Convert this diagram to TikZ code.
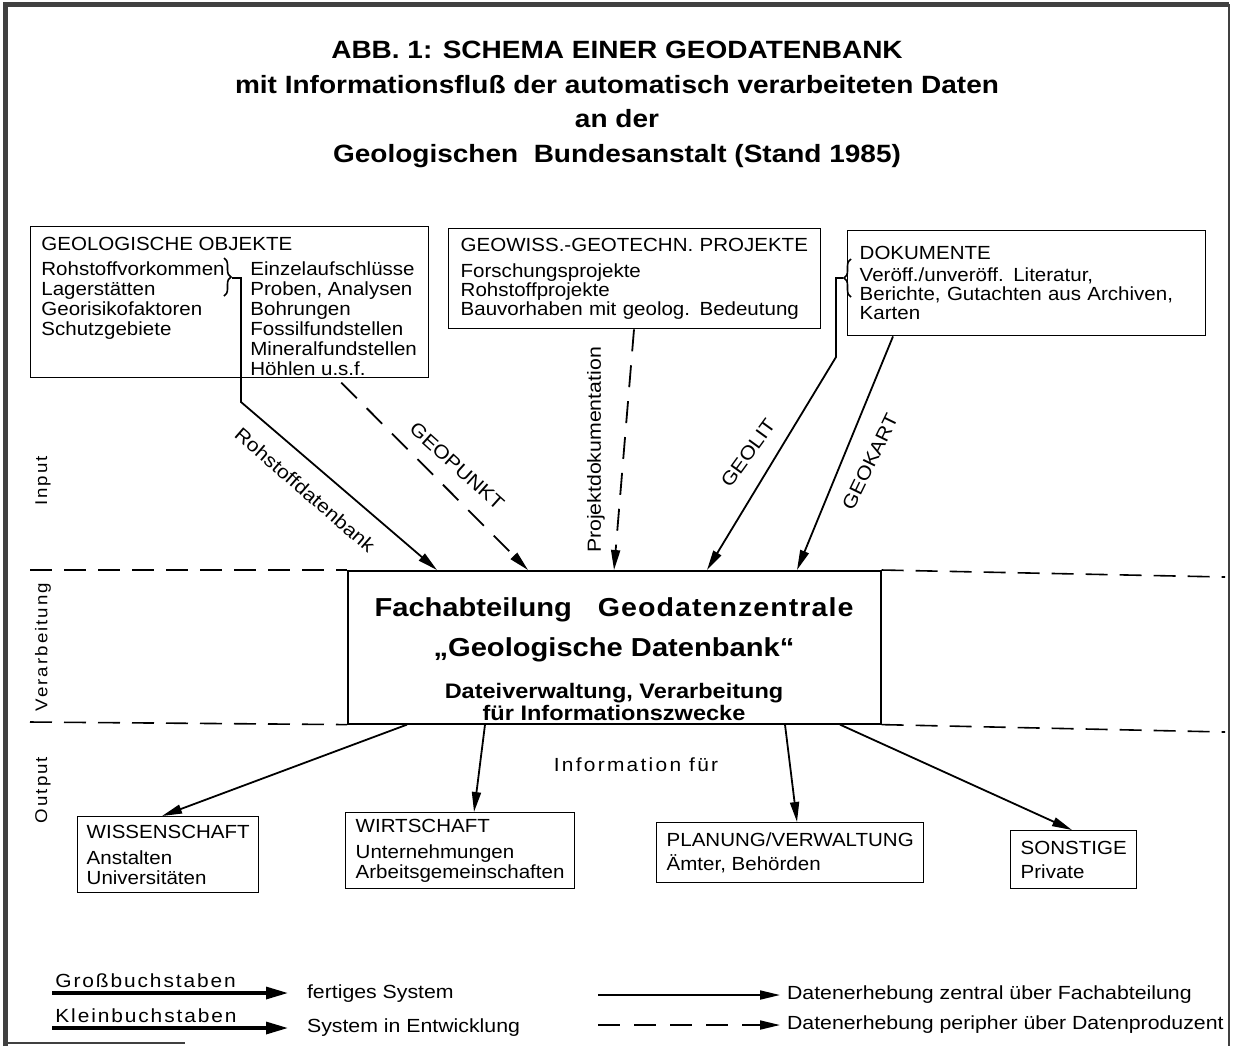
\documentclass[tikz,border=0pt]{standalone}
\usepackage{fontspec}
\setmainfont{Liberation Sans}[FakeStretch=1.12]
\newfontfamily\boxfamily{Liberation Sans}[FakeStretch=1.08]
\newfontfamily\spacedfont{Liberation Sans}[FakeStretch=1.1,LetterSpace=12]
\newfontfamily\legspaced{Liberation Sans}[FakeStretch=1.1,LetterSpace=10]
\newfontfamily\headspaced{Liberation Sans}[FakeStretch=1.1,LetterSpace=4]
\usetikzlibrary{arrows.meta,positioning,decorations.pathreplacing}

\newcommand{\boxfont}{\boxfamily\fontsize{9.5}{10}\selectfont}
\newcommand{\legfont}{\fontsize{9.5}{9.5}\selectfont}
\tikzset{
    box/.style={draw, line width=0.7pt, anchor=north west, align=left, inner xsep=5pt, inner ysep=0pt, font=\boxfont},
    txt/.style={anchor=north west, align=left, inner sep=0pt, font=\boxfont},
    lbl/.style={inner sep=1pt, font=\legfont},
    side/.style={inner sep=1pt, rotate=90, font=\spacedfont\fontsize{8.5}{8.5}\selectfont},
    conn/.style={line width=0.9pt, -{Triangle[length=10pt,width=4.5pt]}},
    dconn/.style={conn, dash pattern=on 11pt off 7pt},
    bigconn/.style={line width=1.6pt, -{Triangle[length=11pt,width=6pt]}},
    sepline/.style={line width=0.8pt, dash pattern=on 11pt off 6pt},
    bracket/.style={decorate, decoration={brace, amplitude=3.5pt}, line width=0.8pt}
}

\begin{document}
\begin{tikzpicture}[x=0.5pt,y=-0.5pt]
    \useasboundingbox (0,0) rectangle (1235,1046);
    % frame
    \draw[line width=2.5pt, black!75] (5,1046) -- (5,4) -- (1229,4);
    \draw[line width=1.2pt, black!75] (1229,4) -- (1229,1046);
    \draw[line width=1.2pt, black!75] (5,1043) -- (185,1043);

    % title
    \node[align=center, inner sep=0pt, anchor=north,
        font=\fontsize{12.5}{17.2}\selectfont\bfseries] (title) at (617,41)
        {ABB. 1: SCHEMA EINER GEODATENBANK\\
         mit Informationsfluß der automatisch verarbeiteten Daten\\
         an der\\
         Geologischen\ \ Bundesanstalt (Stand 1985)};

    % input boxes
    \node[box, minimum width=199pt, minimum height=75.5pt] (geo) at (30,226) {};
    \node[txt] (geohead) at (41,237) {GEOLOGISCHE OBJEKTE};
    \node[txt] (geoleft) at (41,261)
        {Rohstoffvorkommen\\Lagerstätten\\Georisikofaktoren\\Schutzgebiete};
    \node[txt] (georight) at (250,261)
        {Einzelaufschlüsse\\Proben, Analysen\\Bohrungen\\Fossilfundstellen\\Mineralfundstellen\\Höhlen u.s.f.};
    \draw[bracket] (224,258) -- (224,296);
    \coordinate (rohtip) at (232,278);
    \coordinate (rohbend) at (241,402);

    \node[box, inner xsep=6pt, text width=174pt, minimum height=50pt] (geowiss) at (448,228)
        {GEOWISS.-GEOTECHN. PROJEKTE\\[3pt]
         Forschungsprojekte\\[-0.5pt]Rohstoffprojekte\\[-0.5pt]Bauvorhaben mit geolog. Bedeutung};

    \node[box, inner xsep=6pt, text width=167pt, minimum height=52.5pt] (dok) at (847,230)
        {DOKUMENTE\\[1pt]
         Veröff./unveröff. Literatur,\\[-0.5pt]Berichte, Gutachten aus Archiven,\\[-0.5pt]Karten};
    \draw[bracket] (851,297) -- (851,259);
    \coordinate (doktip) at (843,278);
    \coordinate (litbend) at (836,357);

    % central box
    \node[draw, line width=0.8pt, anchor=north west, inner sep=0pt,
        minimum width=266.5pt, minimum height=76.5pt] (zentrale) at (347,570) {};
    \node[align=center, inner sep=0pt, anchor=north,
        font=\fontsize{13}{20}\selectfont\bfseries] (fach) at (614,597)
        {Fachabteilung\hspace{13pt}{\headspaced Geodatenzentrale}\\„Geologische Datenbank“};
    \node[align=center, inner sep=0pt, anchor=north,
        font=\fontsize{10.5}{9.5}\selectfont\bfseries] (datei) at (614,683)
        {Dateiverwaltung, Verarbeitung\\für Informationszwecke};

    % level lines
    \draw[sepline] (30,570) -- (zentrale.north west);
    \draw[sepline] (zentrale.north east) -- (1225,577);
    \draw[sepline] (30,722) -- (zentrale.south west);
    \draw[sepline] (zentrale.south east) -- (1225,732);
    \node[side] (input) at (43,481) {Input};
    \node[side] (verarb) at (43,647) {Verarbeitung};
    \node[side] (output) at (43,790) {Output};

    % input flows
    \draw[conn] (rohtip) -| (rohbend) -- (437,0 |- zentrale.north);
    \draw[dconn, shorten <=3pt] (337,0 |- geo.south) -- (528,0 |- zentrale.north);
    \draw[dconn] (634,0 |- geowiss.south) -- (614,0 |- zentrale.north);
    \draw[conn] (doktip) -| (litbend) -- (707,0 |- zentrale.north);
    \draw[conn] (893,0 |- dok.south) -- (797,0 |- zentrale.north);
    \node[lbl, rotate=-41] (rohlbl) at (305,490) {Rohstoffdatenbank};
    \node[lbl, rotate=-42] (punktlbl) at (457,466) {GEOPUNKT};
    \node[lbl, rotate=90] (projlbl) at (596,450) {Projektdokumentation};
    \node[lbl, rotate=54] (litlbl) at (748,453) {GEOLIT};
    \node[lbl, rotate=64] (kartlbl) at (870,462) {GEOKART};

    % output boxes
    \node[lbl, font=\spacedfont\legfont] (info) at (636,765) {Information für};
    \node[box, inner xsep=4.5pt, minimum height=38pt] (wiss) at (77,816)
        {WISSENSCHAFT\\[3pt]Anstalten\\Universitäten};
    \node[box, minimum height=38pt] (wirt) at (345,812)
        {WIRTSCHAFT\\[3pt]Unternehmungen\\Arbeitsgemeinschaften};
    \node[box, minimum height=30pt] (plan) at (656,822)
        {PLANUNG/VERWALTUNG\\[2pt]Ämter, Behörden};
    \node[box, minimum height=29pt] (sonst) at (1010,830)
        {SONSTIGE\\[2pt]Private};
    \draw[conn] (407,0 |- zentrale.south) -- (162,0 |- wiss.north);
    \draw[conn] (485,0 |- zentrale.south) -- (474,0 |- wirt.north);
    \draw[conn] (785,0 |- zentrale.south) -- (797,0 |- plan.north);
    \draw[conn] (840,0 |- zentrale.south) -- (1072,0 |- sonst.north);

    % legend
    \node[anchor=base west, inner sep=0pt, font=\legspaced\legfont] (gross) at (55,987) {Großbuchstaben};
    \node[anchor=base west, inner sep=0pt, font=\legspaced\legfont] (klein) at (55,1022) {Kleinbuchstaben};
    \node[anchor=west, font=\legfont] (fertig) at (300,994) {fertiges System};
    \node[anchor=west, font=\legfont] (entw) at (300,1028) {System in Entwicklung};
    \coordinate (g0) at (52,993);
    \coordinate (k0) at (52,1028);
    \draw[bigconn, shorten >=6pt] (g0) -- (g0 -| fertig.west);
    \draw[bigconn, shorten >=6pt] (k0) -- (k0 -| entw.west);
    \node[anchor=west, font=\legfont] (zentral) at (780,995) {Datenerhebung zentral über Fachabteilung};
    \node[anchor=west, font=\legfont] (peripher) at (780,1025) {Datenerhebung peripher über Datenproduzent};
    \coordinate (z0) at (598,995);
    \coordinate (p0) at (598,1025);
    \draw[conn] (z0) -- (zentral.west);
    \draw[dconn] (p0) -- (peripher.west);
\end{tikzpicture}
\end{document}
